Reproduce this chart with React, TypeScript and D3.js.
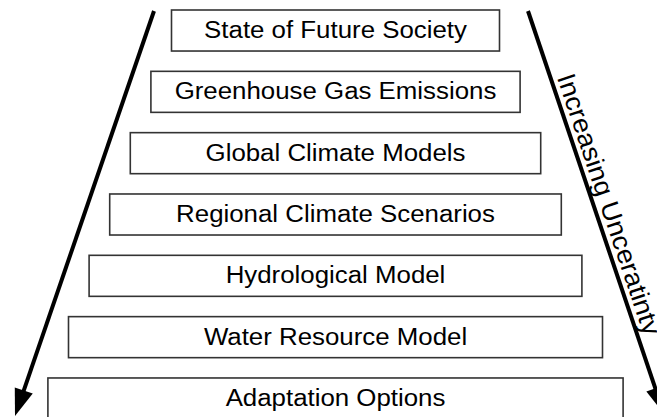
import * as d3 from "d3";
import React from "react";

// chain of modelling steps, top to bottom
const steps = [
  "State of Future Society",
  "Greenhouse Gas Emissions",
  "Global Climate Models",
  "Regional Climate Scenarios",
  "Hydrological Model",
  "Water Resource Model",
  "Adaptation Options",
];
const sideLabel = "Increasing Unceratinty";

const width = 657;
const height = 417;

const App = () => {
  const idx = steps.map((_, i) => i);
  const y = d3.scaleBand<number>().domain(idx).range([10, 419]).paddingInner(0.331).paddingOuter(0).align(0);
  const halfW = d3.scaleLinear().domain([0, steps.length - 1]).range([164, 287.6]);
  const cx = 335.5;
  const sx = 1.055; // text in the source is slightly wide

  const line = d3.line();
  const leftArrow: [number, number][] = [[154, 11], [15, 416]];
  const rightArrow: [number, number][] = [[528, 11], [664, 414]];

  const head = (p: [number, number][]) => {
    const [a, b] = p;
    const ang = Math.atan2(b[1] - a[1], b[0] - a[0]);
    const len = 27, hw = 9.5;
    const bx = b[0] - len * Math.cos(ang), by = b[1] - len * Math.sin(ang);
    const nx = -Math.sin(ang), ny = Math.cos(ang);
    return line([[b[0], b[1]], [bx + nx * hw, by + ny * hw], [bx - nx * hw, by - ny * hw]]) + "Z";
  };
  const shaft = (p: [number, number][]) => {
    const [a, b] = p;
    const ang = Math.atan2(b[1] - a[1], b[0] - a[0]);
    return line([a, [b[0] - 20 * Math.cos(ang), b[1] - 20 * Math.sin(ang)]]);
  };

  const [ra, rb] = rightArrow;
  const rRad = Math.atan2(rb[1] - ra[1], rb[0] - ra[0]);
  const rAng = (rRad * 180) / Math.PI;
  const t0 = 72;
  const lx = ra[0] + t0 * Math.cos(rRad) + 6 * Math.sin(rRad);
  const ly = ra[1] + t0 * Math.sin(rRad) - 6 * Math.cos(rRad);

  return (
    <svg width={width} height={height} style={{ position: "absolute", left: 0, top: 0, background: "#fff" }}
      fontFamily="'Liberation Sans', Arial, sans-serif">
      <rect width={width} height={height} fill="#fff" />
      {steps.map((s, i) => (
        <g key={s}>
          <rect x={cx - halfW(i)} y={y(i)} width={2 * halfW(i)} height={y.bandwidth()}
            fill="#fff" stroke="#333" strokeWidth={1.6} />
          <g transform={`translate(${cx},${(y(i) ?? 0) + y.bandwidth() / 2}) scale(${sx},1)`}>
            <text dy="0.3em" textAnchor="middle" fontSize={24.5} fill="#000">
              {s}
            </text>
          </g>
        </g>
      ))}
      {[leftArrow, rightArrow].map((p, i) => (
        <g key={i}>
          <path d={shaft(p) ?? ""} stroke="#000" strokeWidth={4} fill="none" />
          <path d={head(p)} fill="#000" />
        </g>
      ))}
      <g transform={`translate(${lx},${ly}) rotate(${rAng}) scale(1.06,1)`}>
        <text fontSize={26} fill="#000">{sideLabel}</text>
      </g>
    </svg>
  );
};

export default App;
